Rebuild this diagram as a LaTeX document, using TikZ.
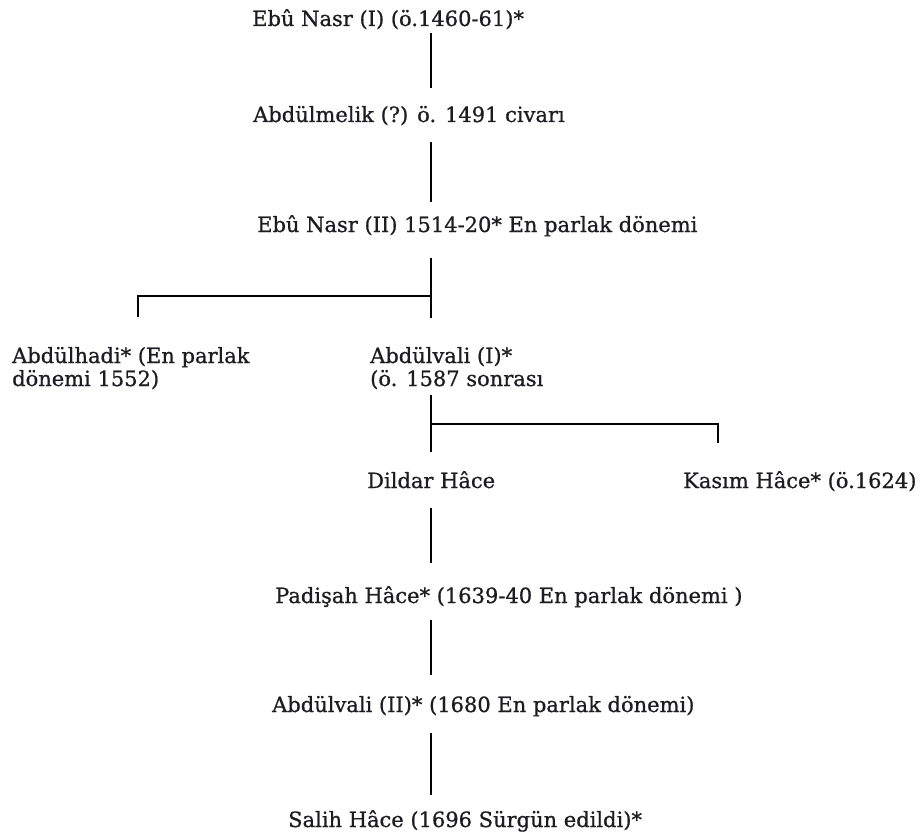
\documentclass[tikz,border=0pt]{standalone}
\usepackage{fontspec}
\setmainfont{DejaVu Serif}[FakeBold=0.8]
\usetikzlibrary{calc}
\definecolor{TreeInk}{RGB}{28,28,34}

\begin{document}
\begin{tikzpicture}[x=1pt,y=-1pt,
  person/.style={anchor=base west,inner sep=0pt,align=left,text=TreeInk,
                 font=\fontsize{21}{23}\selectfont},
  link/.style={draw=black,line width=1.4pt}
]
\useasboundingbox (0,0) rectangle (921,840);
\coordinate (fork1) at (431,296);
\coordinate (fork2) at (431,424);
\node[person] (ebu1) at (252,26) {Ebû Nasr (I) (ö.1460-61)*};
\node[person] (melik) at (253,122) {Abdülmelik (?) ö. 1491 civarı};
\node[person] (ebu2) at (257,232) {Ebû Nasr (II) 1514-20* En parlak dönemi};
\node[person] (hadi) at (12,386) {Abdülhadi* (En parlak\\dönemi 1552)};
\node[person] (vali1) at (370,386) {Abdülvali (I)*\\(ö. 1587 sonrası};
\node[person] (dildar) at (367,488) {Dildar Hâce};
\node[person] (kasim) at (683,488) {Kasım Hâce* (ö.1624)};
\node[person] (padisah) at (275,603) {Padişah Hâce* (1639-40 En parlak dönemi )};
\node[person] (vali2) at (272,712) {Abdülvali (II)* (1680 En parlak dönemi)};
\node[person] (salih) at (288,827) {Salih Hâce (1696 Sürgün edildi)*};
\draw[link,shorten <=7pt,shorten >=34pt] (ebu1.base -| fork1) -- (melik.base -| fork1);
\draw[link,shorten <=20pt,shorten >=30pt] (melik.base -| fork1) -- (ebu2.base -| fork1);
\draw[link,shorten <=26pt,shorten >=68pt] (ebu2.base -| fork1) -- (vali1.base -| fork1);
\draw[link,shorten >=30pt] (fork1) -| ([xshift=126pt]hadi.north west);
\draw[link,shorten <=9pt,shorten >=36pt] (vali1.base -| fork2) -- (dildar.base -| fork2);
\draw[link,shorten >=28pt] (fork2) -| ([xshift=35pt]kasim.north west);
\draw[link,shorten <=20pt,shorten >=40pt] (dildar.base -| fork2) -- (padisah.base -| fork2);
\draw[link,shorten <=17pt,shorten >=37pt] (padisah.base -| fork2) -- (vali2.base -| fork2);
\draw[link,shorten <=21pt,shorten >=32pt] (vali2.base -| fork2) -- (salih.base -| fork2);
\end{tikzpicture}
\end{document}
